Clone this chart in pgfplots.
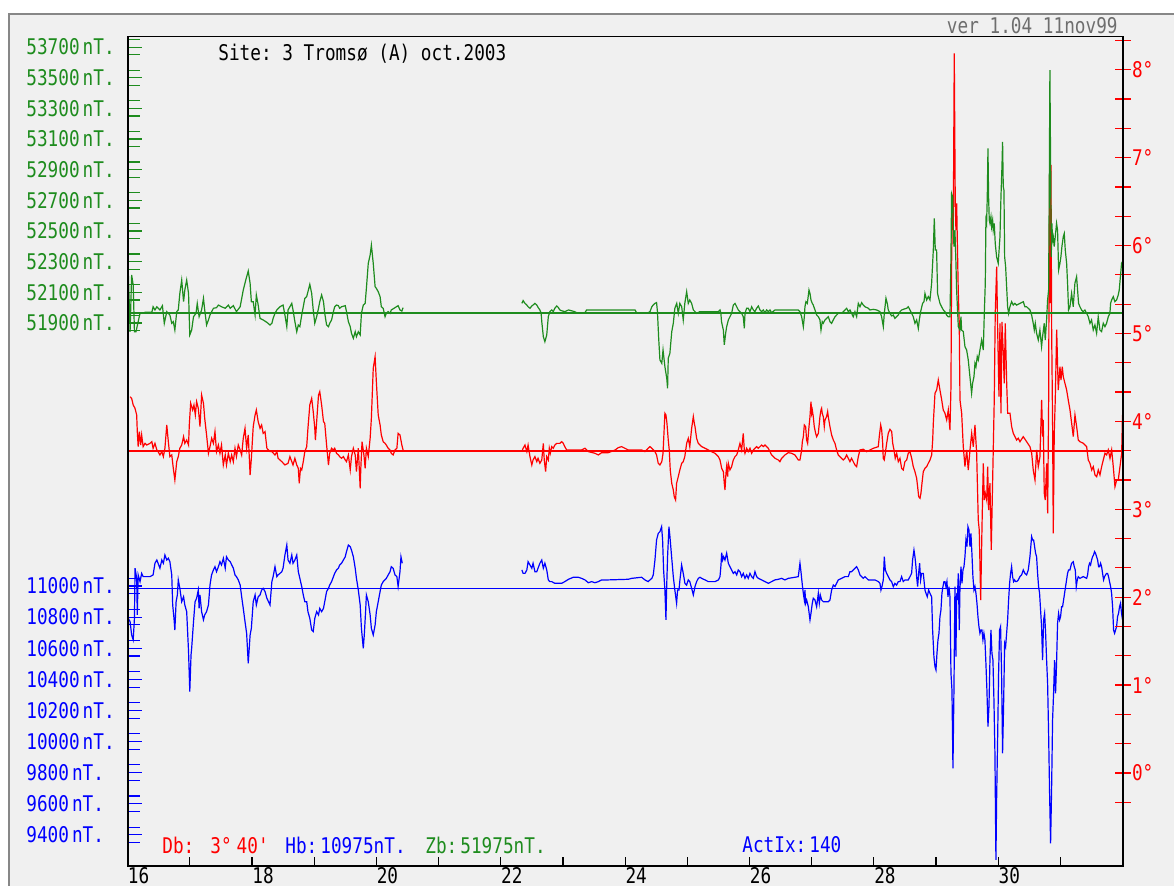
\documentclass[border=0pt]{standalone}
\usepackage{pgfplots}
\pgfplotsset{compat=1.18}
\usepackage{fontspec}
\setmonofont{DejaVu Sans Mono}[FakeStretch=0.82]
\definecolor{zgreen}{RGB}{30,140,30}
\definecolor{hblue}{RGB}{0,0,255}
\definecolor{dred}{RGB}{255,0,0}
\definecolor{bg}{RGB}{240,240,240}
\definecolor{frameg}{RGB}{135,135,135}
\definecolor{vergray}{RGB}{110,110,110}
\newcommand{\lf}{\ttfamily\fontsize{10.8}{12}\selectfont}
\pgfplotsset{
  layer/.style={scale only axis, width=497.5pt, height=414.75pt,
    at={(63.8pt,10pt)}, anchor=south west, xmin=16, xmax=32,
    hide x axis, axis line style={draw=none}, scaled y ticks=false},
}
\begin{document}
\begin{tikzpicture}[x=1pt,y=1pt]
\path[use as bounding box] (0,0) rectangle (587,443);
\clip (0,0) rectangle (587,443);
\fill[white] (0,0) rectangle (587,443);
\fill[bg] (4,-2) rectangle (590,436.5);
\draw[frameg, line width=1pt] (4.5,-2) -- (4.5,436) -- (590,436);

% ---------------- BLUE (H) ----------------
\begin{axis}[layer, ymin=9200.4, ymax=14531.6, ytick pos=left,
  ytick={9400,9600,...,11000},
  yticklabels={9400\hspace{1.5pt}nT.,9600\hspace{1.5pt}nT.,9800\hspace{1.5pt}nT.,10000\hspace{1.5pt}nT.,10200\hspace{1.5pt}nT.,10400\hspace{1.5pt}nT.,10600\hspace{1.5pt}nT.,10800\hspace{1.5pt}nT.,11000\hspace{1.5pt}nT.},
  extra y ticks={9350,9450,...,11050}, extra y tick labels={},
  tick align=inside, major tick length=7pt,
  extra y tick style={major tick length=6pt},
  tick style={hblue, line width=0.55pt},
  yticklabel style={font=\lf, text=hblue, anchor=west, inner sep=0pt, xshift=-50.8pt},
  yticklabel shift=0pt]
\addplot[hblue, line width=0.55pt] coordinates {(16,10981)(32,10981)};
\addplot[hblue, line width=0.6pt] coordinates {
(16.01,10792)(16.04,10771)(16.065,10685)(16.09,10653)(16.11,10792)(16.12,11114)(16.146,11049)(16.156,10814)(16.17,11071)(16.2,11028)(16.226,11081)(16.25,11060)(16.36,11060)(16.41,11071)(16.44,11146)(16.47,11167)(16.49,11146)(16.52,11114)(16.55,11167)(16.575,11146)(16.6,11199)(16.63,11167)(16.655,11178)(16.68,11156)(16.71,11071)(16.725,10878)(16.746,10792)(16.76,10717)(16.78,10899)(16.8,10942)(16.815,11039)(16.84,10985)(16.87,10899)(16.9,10931)(16.92,10878)(16.95,10835)(16.98,10578)(17.0,10321)(17.02,10557)(17.03,10599)(17.06,10771)(17.085,10899)(17.11,10921)(17.137,10974)(17.15,10856)(17.164,10942)(17.19,10835)(17.22,10782)(17.24,10814)(17.27,10835)(17.3,10878)(17.325,11006)(17.35,11071)(17.38,11103)(17.405,11124)(17.43,11092)(17.46,11124)(17.485,11156)(17.51,11135)(17.54,11178)(17.57,11114)(17.59,11188)(17.62,11167)(17.65,11156)(17.7,11114)(17.727,11071)(17.75,11060)(17.78,11039)(17.81,11006)(17.834,10931)(17.86,10856)(17.888,10771)(17.914,10696)(17.94,10503)(17.97,10685)(17.99,10728)(18.02,10899)(18.05,10942)(18.07,10878)(18.1,10931)(18.13,10942)(18.155,10974)(18.18,10985)(18.21,10964)(18.24,10921)(18.29,10878)
(18.32,11028)(18.34,11060)(18.37,11124)(18.4,11060)(18.42,11071)(18.45,11081)(18.48,11092)(18.5,11114)(18.53,11199)(18.56,11263)(18.58,11167)(18.61,11146)(18.64,11199)(18.66,11146)(18.69,11167)(18.72,11199)(18.745,11092)(18.77,11049)(18.8,10996)(18.825,10942)(18.85,10899)(18.88,10899)(18.9,10835)(18.93,10792)(18.96,10717)(18.985,10707)(19.01,10792)(19.04,10835)(19.07,10814)(19.09,10856)(19.12,10835)(19.15,10856)(19.17,10899)(19.2,10964)(19.23,10985)(19.25,11006)(19.28,11028)(19.31,11060)(19.33,11081)(19.36,11103)(19.39,11114)(19.41,11135)(19.44,11146)(19.47,11167)(19.5,11188)(19.52,11221)(19.55,11263)(19.58,11253)(19.6,11231)(19.63,11188)(19.66,11114)(19.68,11049)(19.71,10974)(19.74,10878)(19.76,10728)(19.79,10599)(19.806,10685)(19.827,10835)(19.84,10942)(19.87,10899)(19.9,10814)(19.92,10728)(19.95,10685)(19.98,10749)(20.0,10835)(20.03,10899)(20.06,10964)(20.08,11006)(20.11,11028)(20.16,11049)(20.22,11092)(20.24,11124)(20.27,11114)(20.3,11071)(20.33,11060)(20.35,10996)(20.38,11092)(20.396,11188)(20.417,11146)};
\addplot[hblue, line width=0.6pt] coordinates {
(22.34,11103)(22.36,11081)(22.39,11081)(22.42,11103)(22.44,11156)(22.47,11135)(22.5,11114)(22.52,11146)(22.55,11092)(22.58,11092)(22.6,11114)(22.63,11146)(22.66,11167)(22.685,11114)(22.71,11146)(22.74,11103)(22.765,11039)(22.79,11028)(22.82,11028)(22.87,11017)(22.98,11017)(23.03,11028)(23.09,11043)(23.167,11056)(23.247,11056)(23.3,11049)(23.355,11039)(23.408,11021)(23.462,11028)(23.515,11021)(23.57,11028)(23.622,11039)(23.73,11039)(24.051,11043)(24.105,11049)(24.265,11056)(24.319,11039)(24.37,11028)(24.4,11039)(24.43,11049)(24.453,11071)(24.48,11167)(24.506,11296)(24.533,11338)(24.56,11349)(24.587,11381)(24.603,11296)(24.619,11103)(24.64,10974)(24.657,10782)(24.667,10974)(24.683,11188)(24.705,11381)(24.721,11317)(24.748,11188)(24.775,11060)(24.8,10974)(24.828,10889)(24.844,10974)(24.866,10974)(24.882,11039)(24.909,11135)(24.935,11081)(24.962,11017)(24.989,11006)(25.016,11039)(25.04,11028)
(25.07,10985)(25.097,10942)(25.124,10996)(25.15,11028)(25.177,11049)(25.204,11056)(25.231,11049)(25.285,11039)(25.338,11028)(25.445,11028)(25.5,11039)(25.526,11060)(25.542,11135)(25.553,11214)(25.569,11167)(25.585,11188)(25.606,11167)(25.633,11210)(25.66,11146)(25.686,11124)(25.713,11103)(25.74,11081)(25.767,11092)(25.794,11071)(25.82,11103)(25.847,11092)(25.874,11060)(25.9,11081)(25.928,11049)(25.955,11071)(25.98,11049)(26.008,11081)(26.035,11060)(26.062,11049)(26.088,11092)(26.115,11060)(26.142,11049)(26.196,11039)(26.249,11028)(26.303,11017)(26.356,11028)(26.41,11039)(26.464,11043)(26.517,11049)(26.57,11039)(26.624,11049)(26.731,11056)(26.785,11060)(26.812,11146)(26.828,11092)(26.85,11006)(26.866,10953)(26.882,10910)(26.892,10974)(26.903,10889)(26.919,10910)(26.946,10867)(26.973,10782)(26.989,10824)(27.01,10889)(27.026,10921)(27.053,10910)(27.08,10867)(27.107,10953)(27.123,10889)(27.139,10942)(27.16,10910)(27.187,10899)(27.267,10899)(27.294,10910)(27.321,10974)(27.348,11006)(27.375,10996)(27.401,11017)(27.428,11039)(27.482,11049)(27.535,11060)(27.589,11060)(27.616,11092)(27.642,11092)(27.696,11114)(27.723,11124)(27.75,11103)
(27.777,11071)(27.804,11060)(27.83,11049)(27.857,11060)(27.911,11039)(27.964,11039)(28.018,11039)(28.072,11028)(28.098,11017)(28.114,10974)(28.13,10996)(28.152,11039)(28.168,11188)(28.184,11103)(28.206,11081)(28.232,11060)(28.259,11039)(28.286,11028)(28.313,10996)(28.339,11017)(28.366,11006)(28.393,11028)(28.42,11028)(28.447,11060)(28.473,11028)(28.5,11039)(28.554,11039)(28.581,11060)(28.607,11081)(28.623,11167)(28.645,11231)(28.661,11188)(28.677,11124)(28.688,11060)(28.704,10996)(28.72,11081)(28.736,11146)(28.752,11039)(28.768,11081)(28.795,11081)(28.822,10974)(28.838,10953)(28.859,10931)(28.881,10974)(28.902,10953)(28.929,10931)(28.945,10717)(28.966,10546)(28.983,10482)(28.999,10460)(29.015,10567)(29.031,10653)(29.047,10696)(29.063,10803)(29.079,10846)(29.095,10953)(29.111,10996)(29.127,11028)(29.143,11028)(29.159,10996)(29.175,11028)(29.192,10931)(29.208,10996)(29.224,10931)(29.24,10439)(29.256,10332)(29.272,9828)(29.288,10332)(29.304,10996)(29.32,10546)(29.331,10953)(29.342,10910)(29.358,11081)(29.374,10717)(29.384,10974)(29.401,11124)(29.417,11017)(29.433,11103)(29.449,11124)(29.465,11188)(29.481,11296)(29.497,11253)(29.513,11381)(29.529,11360)(29.545,11253)(29.561,11338)(29.577,11210)(29.593,11060)(29.61,10974)(29.626,10996)(29.642,10953)(29.658,10889)(29.674,10803)(29.69,10739)(29.706,10696)(29.722,10717)(29.738,10717)(29.754,10653)(29.77,10696)(29.786,10653)(29.802,10503)(29.818,10332)(29.835,10096)(29.851,10225)(29.867,10524)(29.883,10717)(29.899,10567)(29.915,10524)(29.931,10267)(29.947,9925)(29.963,9239)(29.974,9625)(29.99,10010)(30.006,10439)(30.022,10717)(30.038,10739)(30.054,10439)(30.07,9925)(30.086,10225)(30.103,10632)(30.119,10610)(30.135,10696)(30.151,10782)(30.167,10910)(30.183,11017)(30.199,11081)(30.215,11124)(30.231,11060)(30.247,11028)(30.263,11039)(30.279,11028)(30.296,11028)(30.322,11039)(30.349,11060)(30.376,11071)(30.403,11103)(30.429,11081)(30.456,11071)(30.483,11103)(30.51,11188)(30.537,11317)(30.553,11296)(30.569,11296)(30.585,11253)(30.601,11210)(30.617,11188)(30.633,11081)(30.649,10996)(30.665,10953)(30.681,10846)(30.697,10739)(30.713,10524)(30.73,10782)(30.746,10824)(30.762,10696)(30.778,10524)(30.794,10375)(30.81,10053)(30.826,9668)(30.842,9346)(30.858,9689)(30.874,10139)(30.89,10310)(30.906,10524)(30.922,10310)(30.938,10503)(30.954,10760)(30.971,10824)(30.987,10782)(31.003,10803)(31.019,10867)(31.035,10867)(31.051,10910)(31.067,10953)(31.083,10996)(31.099,11039)(31.115,11081)(31.131,11103)(31.153,11103)(31.18,11146)(31.206,11156)(31.222,11124)(31.239,11103)(31.255,10996)(31.271,11039)(31.287,11060)(31.314,11049)(31.367,11060)(31.421,11049)(31.437,11071)(31.453,11124)(31.469,11146)(31.485,11135)(31.501,11167)(31.517,11188)(31.533,11199)(31.549,11221)(31.565,11210)(31.582,11188)(31.598,11167)(31.614,11124)(31.63,11124)(31.646,11146)(31.662,11124)(31.678,11081)(31.694,11039)(31.71,11060)(31.726,11071)(31.742,11081)(31.758,11081)(31.774,11060)(31.79,11028)(31.807,10996)(31.823,10953)(31.839,10867)(31.855,10717)(31.871,10696)(31.887,10717)(31.903,10739)(31.919,10803)(31.935,10824)(31.951,10867)(31.967,10889)(31.983,10824)(31.999,10782)};
\end{axis}

% ---------------- RED (D) ----------------
\begin{axis}[layer, ymin=-1.058, ymax=8.379, ytick pos=right, yticklabel pos=right,
  ytick={0,1,...,8},
  yticklabels={0°,1°,2°,3°,4°,5°,6°,7°,8°},
  extra y ticks={-0.3333,0.3333,0.6667,1.3333,1.6667,2.3333,2.6667,3.3333,3.6667,4.3333,4.6667,5.3333,5.6667,6.3333,6.6667,7.3333,7.6667,8.3333},
  extra y tick labels={},
  tick align=center, major tick length=8pt,
  tick style={dred, line width=0.6pt},
  yticklabel style={font=\lf, text=dred, anchor=west, inner sep=0pt},
  yticklabel shift=0.5pt]
\addplot[dred, line width=0.55pt] coordinates {(16,3.663)(32,3.663)};
\addplot[dred, line width=0.6pt] coordinates {
(16.04,4.281)(16.065,4.262)(16.09,4.187)(16.119,4.149)(16.146,4.073)(16.156,3.883)(16.17,3.713)(16.189,3.883)(16.21,3.731)(16.226,3.845)(16.25,3.713)(16.28,3.750)(16.307,3.731)(16.36,3.750)(16.39,3.769)(16.41,3.694)(16.44,3.750)(16.47,3.675)(16.49,3.656)(16.52,3.618)(16.55,3.656)(16.575,3.599)(16.6,3.694)(16.63,3.959)(16.655,3.769)(16.68,3.599)(16.71,3.618)(16.735,3.466)(16.76,3.333)(16.79,3.542)(16.815,3.599)(16.84,3.694)(16.87,3.731)(16.9,3.826)(16.92,3.750)(16.95,3.788)(16.98,3.731)(16.992,3.959)(17.014,4.206)(17.046,4.130)(17.067,4.187)(17.089,4.073)(17.11,4.224)(17.137,4.149)(17.164,3.940)(17.19,4.300)(17.22,4.206)(17.24,4.035)(17.27,3.845)(17.3,3.637)(17.325,3.713)(17.352,3.807)(17.38,3.750)(17.405,3.883)(17.43,3.656)(17.46,3.731)(17.485,3.637)(17.51,3.731)(17.539,3.504)(17.57,3.618)(17.59,3.504)(17.62,3.637)(17.65,3.542)(17.673,3.618)(17.7,3.542)(17.727,3.694)(17.75,3.599)(17.78,3.731)(17.81,3.675)(17.834,3.618)(17.86,3.807)(17.888,3.921)(17.914,3.694)(17.94,3.845)(17.97,3.390)(17.99,3.580)(18.02,3.940)(18.05,4.073)(18.07,4.130)(18.1,3.997)(18.13,3.921)(18.155,3.959)(18.18,3.864)(18.21,3.883)(18.24,3.694)(18.29,3.656)
(18.32,3.656)(18.37,3.618)(18.4,3.656)(18.42,3.580)(18.48,3.542)(18.53,3.504)(18.58,3.523)(18.61,3.599)(18.64,3.542)(18.66,3.504)(18.69,3.580)(18.72,3.504)(18.745,3.466)(18.76,3.295)(18.78,3.466)(18.8,3.447)(18.825,3.542)(18.85,3.656)(18.88,3.713)(18.9,3.921)(18.93,4.187)(18.96,4.262)(18.985,4.111)(19.01,3.921)(19.02,3.788)(19.04,3.997)(19.07,4.300)(19.09,4.338)(19.12,4.187)(19.15,3.997)(19.17,3.978)(19.2,3.731)(19.23,3.504)(19.25,3.637)(19.28,3.694)(19.31,3.675)(19.33,3.694)(19.36,3.637)(19.39,3.618)(19.41,3.599)(19.44,3.580)(19.47,3.599)(19.5,3.561)(19.52,3.542)(19.55,3.618)(19.58,3.447)(19.6,3.599)(19.63,3.694)(19.66,3.618)(19.68,3.428)(19.71,3.694)(19.74,3.238)(19.75,3.466)(19.77,3.769)(19.8,3.618)(19.82,3.466)(19.84,3.694)(19.87,3.599)(19.9,3.807)(19.92,4.035)(19.95,4.604)(19.98,4.736)(20.0,4.452)(20.03,4.073)(20.06,3.959)(20.08,3.845)(20.11,3.769)(20.14,3.750)(20.16,3.731)(20.19,3.694)(20.22,3.675)(20.24,3.637)(20.27,3.618)(20.3,3.675)(20.33,3.694)(20.35,3.864)(20.38,3.845)(20.41,3.731)(20.43,3.675)};
\addplot[dred, line width=0.6pt] coordinates {
(22.34,3.656)(22.36,3.694)(22.39,3.731)(22.42,3.656)(22.44,3.731)(22.47,3.599)(22.5,3.504)(22.52,3.561)(22.55,3.599)(22.58,3.542)(22.6,3.580)(22.63,3.523)(22.66,3.561)(22.685,3.750)(22.7,3.561)(22.722,3.428)(22.74,3.599)(22.765,3.561)(22.781,3.694)(22.797,3.637)(22.82,3.713)(22.845,3.694)(22.87,3.731)(22.9,3.750)(22.95,3.750)(22.98,3.769)(23.006,3.750)(23.03,3.713)(23.06,3.675)(23.301,3.675)(23.355,3.694)(23.408,3.656)(23.515,3.637)(23.57,3.618)(23.622,3.644)(23.73,3.644)(23.84,3.675)(23.89,3.701)(23.944,3.713)(23.997,3.694)(24.051,3.675)(24.265,3.675)(24.319,3.656)(24.37,3.694)(24.4,3.713)(24.43,3.694)(24.48,3.656)(24.506,3.618)(24.533,3.523)(24.56,3.504)(24.59,3.542)(24.61,3.637)(24.64,4.092)(24.657,4.073)(24.673,3.978)(24.694,3.788)(24.71,3.675)(24.726,3.447)(24.75,3.295)(24.775,3.220)(24.79,3.144)(24.812,3.106)(24.828,3.295)(24.855,3.371)(24.88,3.447)(24.91,3.523)(24.935,3.542)(24.96,3.599)(24.99,3.750)(25.016,3.807)(25.04,3.713)
(25.07,3.921)(25.097,4.054)(25.113,3.978)(25.124,3.940)(25.15,3.807)(25.177,3.750)(25.231,3.713)(25.285,3.694)(25.338,3.675)(25.39,3.656)(25.445,3.637)(25.5,3.599)(25.526,3.561)(25.553,3.466)(25.58,3.428)(25.595,3.295)(25.606,3.220)(25.622,3.409)(25.633,3.485)(25.649,3.371)(25.66,3.523)(25.686,3.447)(25.713,3.485)(25.74,3.561)(25.767,3.599)(25.794,3.618)(25.82,3.675)(25.847,3.750)(25.874,3.675)(25.9,3.864)(25.917,3.675)(25.928,3.637)(25.955,3.694)(25.98,3.656)(26.008,3.694)(26.035,3.637)(26.062,3.675)(26.088,3.694)(26.115,3.713)(26.142,3.694)(26.169,3.713)(26.196,3.731)(26.222,3.713)(26.249,3.731)(26.276,3.713)(26.303,3.694)(26.33,3.656)(26.356,3.618)(26.383,3.599)(26.41,3.580)(26.464,3.561)(26.49,3.542)(26.517,3.580)(26.57,3.618)(26.624,3.644)(26.678,3.637)(26.731,3.618)(26.785,3.561)(26.812,3.561)(26.839,3.675)(26.85,3.769)(26.866,3.826)(26.882,3.959)(26.903,3.940)(26.919,3.788)(26.935,3.750)(26.957,3.940)(26.973,4.054)(26.989,4.224)(27.0,4.092)(27.01,4.130)(27.026,4.054)(27.042,3.940)(27.064,3.864)(27.08,3.826)(27.107,3.864)(27.123,3.978)(27.133,4.054)(27.15,4.130)(27.16,4.149)(27.17,4.092)(27.187,4.054)(27.203,3.940)(27.214,4.016)(27.24,4.054)(27.257,4.111)(27.267,4.054)(27.294,3.940)(27.321,3.845)(27.348,3.788)(27.375,3.750)(27.401,3.675)(27.428,3.618)(27.455,3.599)(27.482,3.580)(27.509,3.561)(27.535,3.580)(27.562,3.618)(27.589,3.580)(27.616,3.542)(27.642,3.580)(27.669,3.542)(27.696,3.504)(27.723,3.485)(27.75,3.599)
(27.777,3.675)(27.83,3.683)(27.884,3.655)(27.938,3.675)(27.991,3.694)(28.071,3.712)(28.087,3.826)(28.11,3.959)(28.126,3.902)(28.142,3.751)(28.151,3.580)(28.167,3.561)(28.184,3.637)(28.206,3.751)(28.232,3.865)(28.259,3.910)(28.287,3.883)(28.303,3.751)(28.324,3.675)(28.344,3.580)(28.367,3.637)(28.393,3.542)(28.42,3.580)(28.447,3.466)(28.473,3.447)(28.5,3.542)(28.528,3.561)(28.553,3.637)(28.581,3.655)(28.608,3.580)(28.634,3.485)(28.661,3.428)(28.688,3.353)(28.704,3.257)(28.721,3.143)(28.742,3.125)(28.757,3.182)(28.774,3.296)(28.795,3.428)(28.822,3.466)(28.849,3.485)(28.875,3.523)(28.903,3.561)(28.93,3.618)(28.946,3.788)(28.956,3.978)(28.983,4.320)(29.01,4.357)(29.036,4.471)(29.063,4.357)(29.091,4.244)(29.116,4.130)(29.144,4.092)(29.171,4.016)(29.197,4.130)(29.224,3.902)(29.24,4.395)(29.251,5.836)(29.267,6.556)(29.277,6.177)(29.293,8.188)(29.309,6.481)(29.32,6.177)(29.332,6.481)(29.341,6.101)(29.357,5.495)(29.373,5.116)(29.385,4.244)(29.412,4.092)(29.438,3.712)(29.465,3.485)(29.493,3.675)(29.518,3.447)(29.546,3.675)(29.573,3.865)(29.599,3.712)(29.626,3.959)(29.653,3.637)(29.679,2.878)(29.695,2.765)(29.718,1.968)(29.739,2.802)(29.76,3.523)(29.776,3.106)(29.792,3.182)(29.814,3.106)(29.83,3.485)(29.846,2.992)(29.867,3.296)(29.888,2.537)(29.904,3.106)(29.92,3.675)(29.936,4.244)(29.952,5.230)(29.975,5.760)(29.991,5.045)(30.012,4.281)(30.028,5.116)(30.044,4.092)(30.06,5.131)(30.081,4.778)(30.097,4.433)(30.113,5.116)(30.136,4.433)(30.152,4.092)(30.189,4.092)(30.216,3.940)(30.242,3.865)(30.269,3.826)(30.296,3.788)(30.322,3.808)(30.35,3.769)(30.402,3.826)(30.457,3.769)(30.51,3.712)(30.538,3.637)(30.563,3.447)(30.591,3.333)(30.618,3.675)(30.644,3.485)(30.671,3.598)(30.698,4.244)(30.714,3.826)(30.724,4.016)(30.74,3.182)(30.756,3.106)(30.779,3.523)(30.795,2.954)(30.811,4.244)(30.816,5.419)(30.827,6.936)(30.837,5.344)(30.848,6.917)(30.859,5.045)(30.875,3.902)(30.885,2.727)(30.901,3.865)(30.917,4.244)(30.94,5.045)(30.965,4.357)(30.993,4.622)(31.009,4.471)(31.03,4.622)(31.046,4.509)(31.073,4.433)(31.1,4.357)(31.126,4.244)(31.154,4.130)(31.181,3.978)(31.207,3.826)(31.234,4.073)(31.261,3.940)(31.287,3.788)(31.314,3.769)(31.368,3.751)(31.422,3.712)(31.448,3.561)(31.475,3.523)(31.503,3.447)(31.528,3.485)(31.556,3.390)(31.583,3.371)(31.609,3.447)(31.636,3.390)(31.663,3.485)(31.689,3.561)(31.716,3.637)(31.743,3.618)(31.769,3.675)(31.797,3.580)(31.824,3.675)(31.85,3.485)(31.877,3.257)(31.904,3.333)(31.93,3.333)(31.958,3.485)(31.985,3.637)(31.998,4.073)};
\end{axis}

% ---------------- GREEN (Z) ----------------
\begin{axis}[layer, ymin=48358, ymax=53769, ytick pos=left,
  ytick={51900,52100,...,53700},
  yticklabels={51900\hspace{1.5pt}nT.,52100\hspace{1.5pt}nT.,52300\hspace{1.5pt}nT.,52500\hspace{1.5pt}nT.,52700\hspace{1.5pt}nT.,52900\hspace{1.5pt}nT.,53100\hspace{1.5pt}nT.,53300\hspace{1.5pt}nT.,53500\hspace{1.5pt}nT.,53700\hspace{1.5pt}nT.},
  extra y ticks={51850,51950,...,53750}, extra y tick labels={},
  tick align=inside, major tick length=7pt,
  extra y tick style={major tick length=6pt},
  tick style={zgreen, line width=0.55pt},
  yticklabel style={font=\lf, text=zgreen, anchor=west, inner sep=0pt, xshift=-50.8pt},
  yticklabel shift=0pt]
\addplot[zgreen, line width=0.55pt] coordinates {(16,51965)(32,51965)};
\addplot[zgreen, line width=0.6pt] coordinates {
(16.00,51900)(16.01,52245)(16.04,51843)(16.065,52213)(16.09,52148)(16.11,51843)(16.135,51843)(16.17,51909)(16.2,51963)(16.25,51963)(16.28,51970)(16.39,51970)(16.41,52006)(16.44,51985)(16.47,52006)(16.52,51985)(16.56,52013)(16.59,51898)(16.63,51974)(16.68,51952)(16.71,51898)(16.735,51909)(16.76,51854)(16.79,51974)(16.815,51985)(16.84,52093)(16.87,52180)(16.9,52039)(16.92,52115)(16.95,52180)(16.98,52093)(17.0,51822)(17.03,51854)(17.06,51941)(17.1,51963)(17.12,52028)(17.15,51941)(17.19,51985)(17.22,52061)(17.24,51985)(17.27,51887)(17.3,51920)(17.325,51952)(17.38,51996)(17.43,52000)(17.46,52017)(17.51,52006)(17.57,51996)(17.62,52017)(17.65,51996)(17.7,52013)(17.75,51974)(17.81,52006)(17.86,52115)(17.9,52180)(17.94,52239)(17.97,52159)(17.99,52039)(18.02,52039)(18.05,51952)(18.07,52083)(18.1,52017)(18.13,51930)(18.18,51920)(18.24,51904)(18.29,51887)
(18.32,51898)(18.34,51930)(18.37,51963)(18.40,51985)(18.45,52006)(18.5,52017)(18.53,51952)(18.56,51876)(18.58,51985)(18.61,52006)(18.64,52028)(18.66,51985)(18.69,51909)(18.72,51843)(18.745,51887)(18.77,51876)(18.8,51952)(18.825,52006)(18.85,52061)(18.88,52072)(18.9,52104)(18.93,52152)(18.96,52093)(18.985,51985)(19.01,51898)(19.04,51941)(19.07,51996)(19.09,52039)(19.12,52083)(19.15,52039)(19.17,51963)(19.2,51887)(19.23,51876)(19.25,51898)(19.28,51920)(19.31,51974)(19.33,52006)(19.36,52017)(19.39,52013)(19.41,51996)(19.44,52006)(19.5,52013)(19.52,51974)(19.55,51909)(19.58,51876)(19.6,51833)(19.63,51800)(19.66,51843)(19.68,51811)(19.71,51843)(19.74,51822)(19.76,51963)(19.79,52017)(19.82,52028)(19.84,52126)(19.87,52289)(19.9,52343)(19.92,52408)(19.95,52289)(19.98,52137)(20.0,52126)(20.03,52104)(20.06,52072)(20.08,52006)(20.11,51996)(20.14,51941)(20.16,51963)(20.19,51974)(20.22,51963)(20.24,51985)(20.3,52000)(20.35,52013)(20.38,51985)(20.41,51978)(20.43,52000)};
\addplot[zgreen, line width=0.6pt] coordinates {
(22.34,52028)(22.36,52046)(22.39,52028)(22.42,52017)(22.44,52006)(22.47,51996)(22.5,52011)(22.52,52017)(22.55,52028)(22.58,52017)(22.6,52002)(22.63,51985)(22.65,51963)(22.66,51909)(22.685,51811)(22.71,51778)(22.74,51822)(22.765,51941)(22.79,51974)(22.82,51985)(22.845,51974)(22.87,51996)(22.9,52011)(22.925,52002)(22.95,51985)(22.98,51980)(23.03,51974)(23.09,51985)(23.19,51974)(23.22,51967)(23.355,51967)(23.38,51985)(23.57,51985)(23.84,51985)(24.16,51985)(24.185,51967)(24.37,51967)(24.4,51974)(24.43,52006)(24.45,52017)(24.48,52028)(24.506,52033)(24.52,51974)(24.54,51800)(24.56,51659)(24.59,51637)(24.61,51724)(24.64,51615)(24.67,51539)(24.683,51474)(24.694,51670)(24.72,51702)(24.75,51843)(24.775,51898)(24.8,51996)(24.83,52028)(24.855,51963)(24.88,52028)(24.91,52006)(24.935,51920)(24.96,52028)(24.99,52104)(25.016,52028)(25.04,52050)
(25.07,52028)(25.097,51985)(25.124,51974)(25.15,51963)(25.2,51974)(25.285,51974)(25.39,51974)(25.5,51974)(25.526,51985)(25.54,51963)(25.55,51909)(25.58,51854)(25.595,51757)(25.617,51833)(25.633,51876)(25.66,51920)(25.686,51941)(25.713,51963)(25.74,52017)(25.767,52028)(25.794,52006)(25.82,51985)(25.847,51974)(25.874,51963)(25.9,51941)(25.917,51865)(25.928,51963)(25.955,51996)(25.98,51996)(26.008,51974)(26.035,52006)(26.062,51985)(26.088,51974)(26.115,51996)(26.142,52011)(26.169,51985)(26.196,51974)(26.222,51985)(26.249,51967)(26.276,51985)(26.303,51974)(26.33,51985)(26.356,51967)(26.41,51985)(26.57,51985)(26.785,51985)(26.812,51974)(26.839,51941)(26.866,51876)(26.882,51941)(26.892,52006)(26.908,52039)(26.93,52028)(26.957,52115)(26.973,52093)(26.989,52050)(27.01,52028)(27.026,52017)(27.053,51985)(27.08,51952)(27.107,51941)(27.133,51920)(27.15,51854)(27.17,51909)(27.187,51898)(27.214,51920)(27.24,51930)(27.267,51941)(27.294,51909)(27.321,51898)(27.348,51920)(27.375,51941)(27.401,51952)(27.428,51963)(27.482,51963)(27.509,51974)(27.535,51985)(27.562,51996)(27.589,51974)(27.616,51985)(27.642,51963)(27.669,51941)(27.696,51974)(27.723,51941)(27.75,52028)
(27.777,52006)(27.804,52033)(27.83,52017)(27.857,52006)(27.911,51996)(27.937,51985)(27.99,51989)(28.045,51985)(28.098,51974)(28.125,51941)(28.152,51876)(28.168,51963)(28.195,52061)(28.216,52028)(28.232,51985)(28.259,51963)(28.286,51946)(28.313,51952)(28.339,51930)(28.366,51941)(28.393,51952)(28.42,51974)(28.447,51985)(28.473,51989)(28.527,51996)(28.554,52006)(28.581,51985)(28.607,51963)(28.634,51941)(28.661,51898)(28.688,51920)(28.715,51865)(28.731,51920)(28.752,51974)(28.784,52028)(28.806,52039)(28.822,52093)(28.849,52050)(28.875,52072)(28.902,52050)(28.929,52159)(28.956,52376)(28.972,52582)(28.988,52376)(29.009,52376)(29.025,52093)(29.036,52072)(29.063,52028)(29.09,52006)(29.117,51985)(29.143,51974)(29.17,51952)(29.197,51941)(29.224,51941)(29.24,52332)(29.25,52745)(29.267,52724)(29.277,52528)(29.288,52398)(29.304,52506)(29.32,52289)(29.331,52115)(29.358,51876)(29.384,51854)(29.401,51941)(29.411,51854)(29.438,51844)(29.465,51746)(29.492,51724)(29.518,51659)(29.545,51550)(29.572,51442)(29.588,51507)(29.61,51550)(29.626,51637)(29.642,51615)(29.663,51681)(29.68,51659)(29.706,51724)(29.733,51789)(29.76,51724)(29.776,51963)(29.792,52159)(29.802,52571)(29.813,52550)(29.824,52724)(29.835,53039)(29.845,52724)(29.856,52571)(29.867,52550)(29.883,52593)(29.894,52528)(29.91,52571)(29.92,52506)(29.936,52550)(29.952,52419)(29.974,52332)(30.0,52289)(30.028,52463)(30.044,52724)(30.06,52919)(30.07,53082)(30.081,52789)(30.092,52767)(30.103,52332)(30.119,52267)(30.135,52137)(30.151,52006)(30.167,51963)(30.188,52006)(30.215,52039)(30.242,52017)(30.269,52028)(30.296,52017)(30.35,52028)(30.403,52039)(30.429,52006)(30.456,52006)(30.51,51985)(30.537,51952)(30.563,51898)(30.58,51854)(30.596,51898)(30.617,51833)(30.644,51789)(30.67,51854)(30.697,51746)(30.713,51811)(30.74,51898)(30.756,51789)(30.778,51920)(30.794,52050)(30.81,52115)(30.82,52724)(30.831,53549)(30.842,52941)(30.853,52332)(30.863,52550)(30.874,52441)(30.885,52463)(30.9,52398)(30.917,52463)(30.938,52550)(30.954,52506)(30.971,52246)(30.992,52289)(31.008,52332)(31.024,52398)(31.046,52463)(31.062,52484)(31.078,52376)(31.1,52289)(31.115,52159)(31.131,51985)(31.153,52006)(31.18,52093)(31.206,52006)(31.233,52159)(31.26,52202)(31.276,52115)(31.292,52028)(31.314,52006)(31.34,51985)(31.367,51974)(31.394,51985)(31.421,51963)(31.448,51941)(31.475,51898)(31.501,51920)(31.528,51854)(31.555,51887)(31.582,51833)(31.608,51941)(31.635,51854)(31.662,51844)(31.689,51898)(31.716,51876)(31.742,51898)(31.77,51941)(31.796,51963)(31.807,52028)(31.823,52050)(31.85,52072)(31.876,52039)(31.903,52050)(31.93,52083)(31.946,52115)(31.967,52213)(31.983,52289)(31.999,52278)};
\end{axis}

% ---------------- FRAME + TIME AXIS ----------------
\begin{axis}[scale only axis, width=497.5pt, height=414.75pt,
  at={(63.8pt,10pt)}, anchor=south west,
  xmin=16, xmax=32, ymin=0, ymax=1, ytick=\empty,
  xtick={16,...,32},
  xticklabels={16,,18,,20,,22,,24,,26,,28,,30,,},
  xtick pos=lower, tick align=inside, major tick length=4.5pt,
  tick style={black, line width=0.6pt},
  axis line style={black, line width=0.9pt},
  xticklabel style={font=\lf, anchor=north west, inner sep=0pt, yshift=-0.3pt}]
\end{axis}

\node[anchor=west, inner sep=0pt, font=\lf, text=black] at (109,416) {Site: 3 Tromsø (A) oct.2003};
\node[anchor=east, inner sep=0pt, font=\lf, text=vergray] at (559,430) {ver 1.04 11nov99};
\node[anchor=west, inner sep=0pt, font=\lf, text=dred] at (81,20.5) {Db:\hspace{8pt}3°\hspace{2.5pt}40'};
\node[anchor=west, inner sep=0pt, font=\lf, text=hblue] at (142.5,20.5) {Hb:\hspace{1.5pt}10975nT.};
\node[anchor=west, inner sep=0pt, font=\lf, text=zgreen] at (212.5,20.5) {Zb:\hspace{1.5pt}51975nT.};
\node[anchor=west, inner sep=0pt, font=\lf, text=hblue] at (371,20.5) {ActIx:\hspace{1.5pt}140};
\end{tikzpicture}
\end{document}
